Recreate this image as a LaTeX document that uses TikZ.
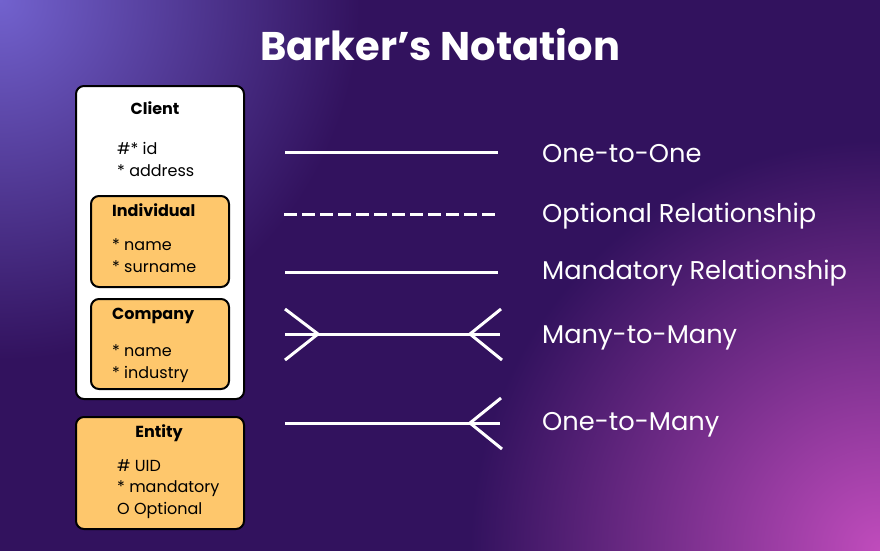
\documentclass[tikz,border=0pt]{standalone}
\usepackage{fontspec}
\setmainfont{Poppins}
\definecolor{bgbase}{HTML}{32125E}
\definecolor{glowA}{HTML}{7262CE}
\definecolor{glowB}{HTML}{C04CBC}
\definecolor{boxfill}{HTML}{FEC76C}
\pgfdeclareradialshading{glowtl}{\pgfpoint{0bp}{0bp}}{color(0bp)=(glowA); color(25bp)=(bgbase); color(50bp)=(bgbase)}
\pgfdeclareradialshading{glowbr}{\pgfpoint{0bp}{0bp}}{color(0bp)=(glowB); color(25bp)=(bgbase); color(50bp)=(bgbase)}
\begin{document}
\begin{tikzpicture}[x=1pt,y=-1pt,
  box/.style={draw=black, line width=2pt, rounded corners=8pt, anchor=north west, inner sep=0pt},
  whitebox/.style={box, fill=white},
  yellowbox/.style={box, fill=boxfill},
  hdr/.style={font=\fontsize{16}{19}\selectfont\bfseries, text=black, inner sep=0pt},
  attr/.style={font=\fontsize{16}{21.8}\selectfont, text=black, inner sep=0pt, anchor=north west, align=left},
  rel/.style={draw=white, line width=3pt},
  lbl/.style={font=\fontsize{25.7}{30}\selectfont, text=white, anchor=base west, inner sep=0pt},
  ttl/.style={font=\fontsize{40}{48}\selectfont\bfseries, text=white, inner sep=0pt}]
\useasboundingbox (0,0) rectangle (880,550);
\begin{scope}
\clip (-5,-5) rectangle (885,555);
\fill[bgbase] (-5,-5) rectangle (885,555);
\shade[shading=glowtl] (0,0) circle (360pt);
\shade[shading=glowbr] (880,550) circle (410pt);
\end{scope}

\node[ttl] (title) at (440,45) {Barker’s Notation};

% Client supertype
\node[whitebox, minimum width=168pt, minimum height=313pt] (client) at (75,85) {};
\node[hdr] (clienth) at (155,108) {Client};
\node[attr] (clienta) at (117,142) {\#* id\\* address};

\node[yellowbox, minimum width=138pt, minimum height=91pt] (indiv) at (90,195) {};
\node[hdr, anchor=west] (indivh) at (112,210) {Individual};
\node[attr] (indiva) at (112,238.5) {* name\\* surname};

\node[yellowbox, minimum width=138pt, minimum height=90pt] (comp) at (90,298) {};
\node[hdr, anchor=west] (comph) at (112,316) {Company};
\node[attr] (compa) at (112,344.5) {* name\\* industry};

% Entity legend
\node[yellowbox, minimum width=168pt, minimum height=112pt] (entity) at (75,416) {};
\node[hdr] (entityh) at (159,433) {Entity};
\node[attr] (entitya) at (117,459) {\# UID\\* mandatory\\O Optional};

% relationship lines
\coordinate (a1) at (285,152); \coordinate (b1) at (498,152);
\coordinate (a2) at (284,214); \coordinate (b2) at (497,214);
\coordinate (a3) at (285,272); \coordinate (b3) at (498,272);
\coordinate (a4) at (285,334); \coordinate (b4) at (500,334);
\coordinate (a5) at (285,423); \coordinate (b5) at (500,423);
\coordinate (l4u) at (285,309); \coordinate (l4t) at (318,334); \coordinate (l4d) at (285,360);
\coordinate (r4u) at (501,309); \coordinate (r4t) at (470,334); \coordinate (r4d) at (502,360);
\coordinate (r5u) at (501,398); \coordinate (r5t) at (470,423); \coordinate (r5d) at (502,449);

\draw[rel] (a1) -- (b1);
\draw[rel, dash pattern=on 13pt off 5pt] (a2) -- (b2);
\draw[rel] (a3) -- (b3);
\draw[rel] (a4) -- (b4);
\draw[rel] (l4u) -- (l4t) -- (l4d);
\draw[rel] (r4u) -- (r4t) -- (r4d);
\draw[rel] (a5) -- (b5);
\draw[rel] (r5u) -- (r5t) -- (r5d);

\node[lbl] (t1) at (542,162) {One-to-One};
\node[lbl] (t2) at (542,222) {Optional Relationship};
\node[lbl] (t3) at (542,279) {Mandatory Relationship};
\node[lbl] (t4) at (542,343) {Many-to-Many};
\node[lbl] (t5) at (542,430) {One-to-Many};
\end{tikzpicture}
\end{document}
